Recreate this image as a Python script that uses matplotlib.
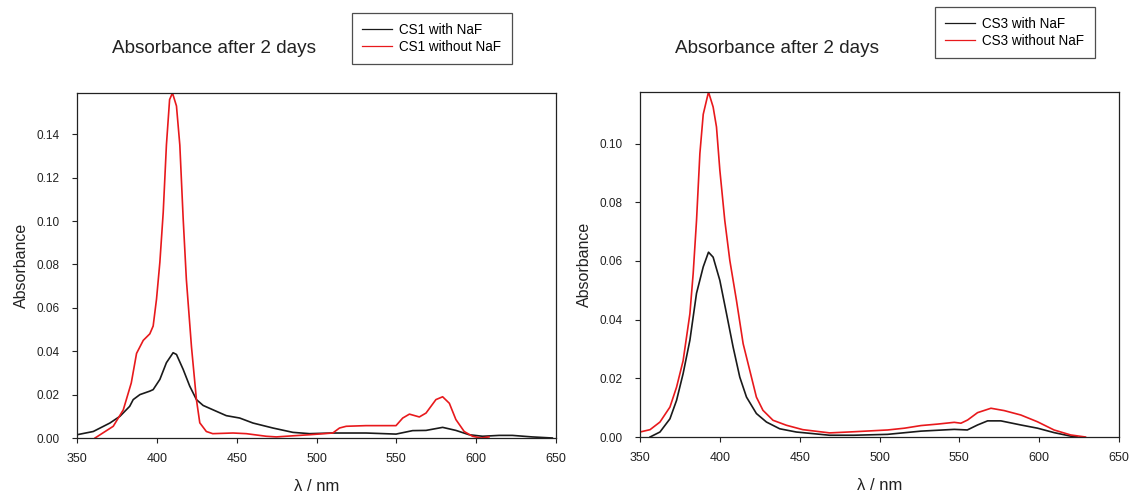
import matplotlib
matplotlib.use("Agg")
import matplotlib.pyplot as plt

plt.rcParams['font.family'] = ['Liberation Sans', 'DejaVu Sans']

# ---- CS1 (left panel) ----
cs1_with_x = [350, 360.2, 370.6, 376.9, 383, 385.2, 389.4, 395.6, 397.7, 401.9, 406, 410.2, 412.3,
              416.5, 420.6, 424.8, 429, 437.3, 443.5, 451.9, 460.2, 472.7, 485.2, 495.6, 510, 531,
              549.8, 560.2, 568.6, 579, 587.3, 595.6, 604, 614.4, 622.7, 635, 647.7]
cs1_with_y = [0.0015, 0.003, 0.0069, 0.010, 0.0146, 0.0177, 0.020, 0.0216, 0.0223, 0.027, 0.0347,
              0.0393, 0.0385, 0.0316, 0.0239, 0.0177, 0.015, 0.0123, 0.0103, 0.0092, 0.0069, 0.0046,
              0.0026, 0.002, 0.0023, 0.0023, 0.0018, 0.0034, 0.0035, 0.0049, 0.0035, 0.0015, 0.0008,
              0.0012, 0.0012, 0.0005, 0.0]
cs1_without_x = [361.3, 372.7, 379, 384, 387.3, 391.5, 395.6, 397.7, 399.8, 401.9, 404, 406, 408,
                 409.8, 412.3, 414.4, 416.5, 418.5, 421.7, 424.8, 426.9, 431, 435, 447.7, 456, 468.5,
                 474.8, 485, 495.6, 510.2, 514.4, 518.6, 531, 549.8, 554, 558.2, 564.4, 568.6, 574.8,
                 579, 583.2, 587.3, 592.5, 597.7, 603, 608]
cs1_without_y = [0.0, 0.0054, 0.013, 0.0254, 0.039, 0.045, 0.048, 0.0516, 0.064, 0.081, 0.104, 0.135,
                 0.156, 0.159, 0.153, 0.135, 0.101, 0.073, 0.042, 0.0177, 0.007, 0.003, 0.002, 0.0023,
                 0.002, 0.0008, 0.0005, 0.001, 0.0015, 0.0023, 0.0046, 0.0054, 0.0057, 0.0057, 0.0092,
                 0.011, 0.0097, 0.0115, 0.0177, 0.019, 0.016, 0.0085, 0.003, 0.0008, 0.0, 0.0005]

# ---- CS3 (right panel) ----
cs3_with_x = [356.3, 362.5, 368.75, 372.9, 377, 381.25, 385.4, 389.6, 392.9, 395.8, 400, 404.2, 408.3,
              412.5, 416.7, 422.9, 429.2, 437.5, 447.9, 468.75, 484, 505, 526, 546.8, 555, 561.4,
              567.7, 576, 588.5, 599, 609.3, 619.7, 624]
cs3_with_y = [0.0, 0.0017, 0.0062, 0.0125, 0.0216, 0.033, 0.049, 0.058, 0.063, 0.0613, 0.0534, 0.042,
              0.0307, 0.0204, 0.0136, 0.008, 0.0051, 0.0028, 0.0017, 0.0006, 0.0006, 0.0009, 0.002,
              0.0026, 0.0024, 0.0041, 0.0055, 0.0055, 0.0041, 0.003, 0.0015, 0.0003, 0.0]
cs3_without_x = [350, 356.3, 362.5, 368.75, 372.9, 377, 381.25, 383.3, 385.4, 387.5, 389.6, 392.9,
                 395.8, 397.9, 400, 403.1, 406.25, 410.4, 414.6, 418.75, 422.9, 427, 433.3, 441.7, 452,
                 468.75, 484.3, 505.2, 515.6, 526, 536.4, 546.8, 551, 555.2, 561.4, 569.8, 578.1, 588.5,
                 598.9, 609.3, 619.7, 629]
cs3_without_y = [0.0017, 0.0025, 0.0051, 0.0102, 0.017, 0.026, 0.042, 0.0557, 0.0738, 0.0966, 0.110,
                 0.1176, 0.1125, 0.1057, 0.091, 0.0738, 0.0602, 0.0466, 0.0318, 0.0227, 0.0136, 0.0091,
                 0.0057, 0.004, 0.0025, 0.0014, 0.0018, 0.0024, 0.003, 0.0039, 0.0044, 0.005, 0.0047,
                 0.0058, 0.0083, 0.0098, 0.009, 0.0075, 0.0052, 0.0024, 0.0007, 0.0]

x_ticks = [350, 400, 450, 500, 550, 600, 650]
left_yticks = [0.00, 0.02, 0.04, 0.06, 0.08, 0.10, 0.12, 0.14]
right_yticks = [0.00, 0.02, 0.04, 0.06, 0.08, 0.10]

title = "Absorbance after 2 days"

fig = plt.figure(figsize=(11.32, 4.98), dpi=100)
ax1 = fig.add_axes([77/1132, 60/498, 479/1132, 345/498])
ax2 = fig.add_axes([640/1132, 61/498, 479/1132, 345/498])

def style(ax, yticks, ytop):
    ax.set_xlim(350, 650)
    ax.set_ylim(0, ytop)
    ax.set_xticks(x_ticks)
    ax.set_yticks(yticks)
    ax.set_yticklabels([f"{v:.2f}" for v in yticks])
    ax.tick_params(direction='out', length=3.6, width=0.8, colors='#222222',
                   top=False, right=False)
    ax.tick_params(axis='x', labelsize=9, pad=7)
    ax.tick_params(axis='y', labelsize=8.5, pad=9)
    for s in ax.spines.values():
        s.set_linewidth(0.9)
        s.set_color('#222222')
    ax.set_ylabel("Absorbance", fontsize=11.5, labelpad=5, color='#222222')
    ax.set_xlabel("λ / nm", fontsize=12, labelpad=10, color='#222222')

ax1.plot(cs1_with_x, cs1_with_y, color='#1a1a1a', lw=1.2, label="CS1 with NaF")
ax1.plot(cs1_without_x, cs1_without_y, color='#e8191c', lw=1.2, label="CS1 without NaF")
style(ax1, left_yticks, 0.159)

ax2.plot(cs3_with_x, cs3_with_y, color='#1a1a1a', lw=1.2, label="CS3 with NaF")
ax2.plot(cs3_without_x, cs3_without_y, color='#e8191c', lw=1.2, label="CS3 without NaF")
style(ax2, right_yticks, 0.1176)

fig.text(214/1132, 1 - 53/498, title, fontsize=13.6, ha='center', va='baseline', color='#222222')
fig.text(777/1132, 1 - 53/498, title, fontsize=13.6, ha='center', va='baseline', color='#222222')

for ax, bb in [(ax1, (352/1132, 1 - 13/498)), (ax2, (935/1132, 1 - 7/498))]:
    leg = ax.legend(loc='upper left', bbox_to_anchor=bb, bbox_transform=fig.transFigure,
                    fontsize=9.75, frameon=True, fancybox=False, handlelength=2.2,
                    borderpad=0.75, labelspacing=0.22, handletextpad=0.55, borderaxespad=0)
    leg.get_frame().set_edgecolor('#222222')
    leg.get_frame().set_linewidth(0.9)
    for l in leg.get_lines():
        l.set_linewidth(0.9)

fig.savefig("out.png", dpi=100)
